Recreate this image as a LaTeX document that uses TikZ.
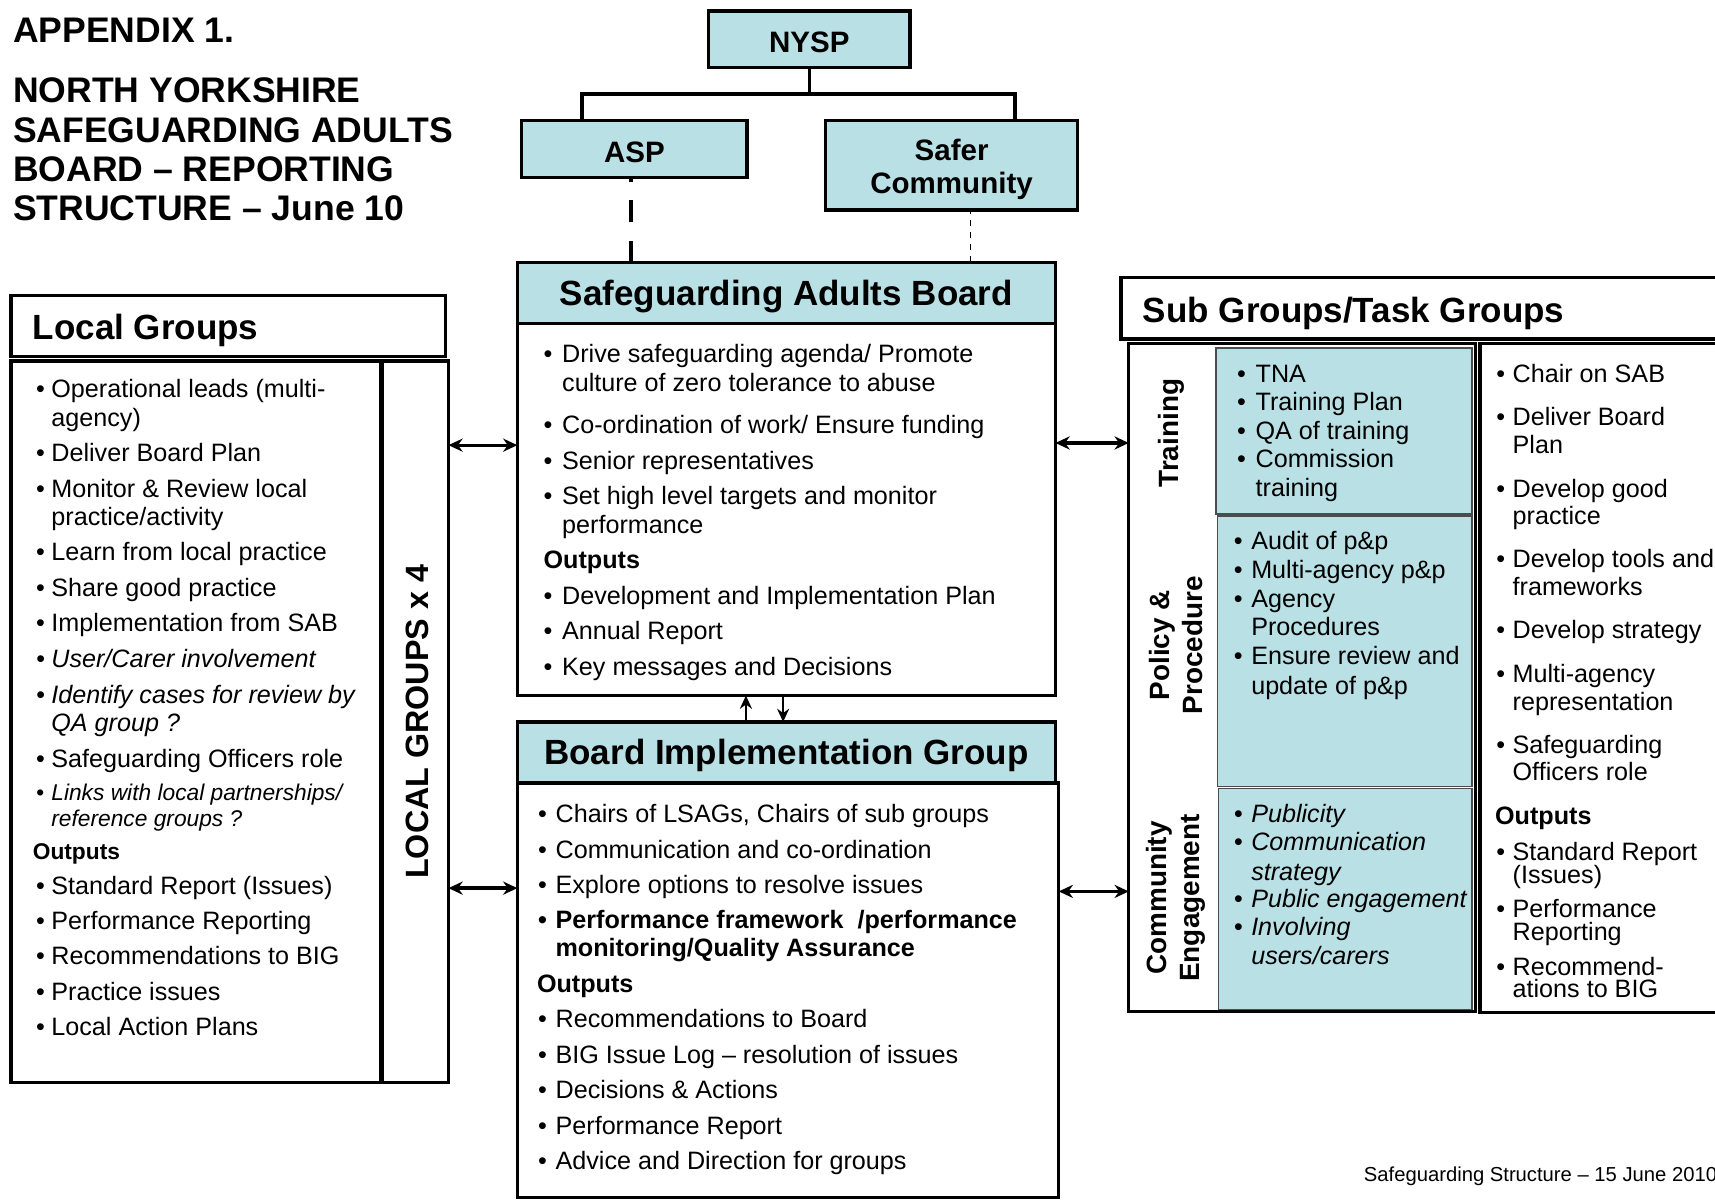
\documentclass[tikz,border=0pt]{standalone}
\usepackage{fontspec}
\setmainfont{Liberation Sans}
\usetikzlibrary{arrows.meta,calc}
\definecolor{sabblue}{RGB}{185,224,228}
\newcounter{ln}
\def\bX{0}\def\tX{0}
\newcommand\fs[1]{\fontsize{#1}{#1}\selectfont}
\tikzset{
 rb/.style={draw, line width=3pt, outer sep=0pt, inner sep=0pt},
 cellbox/.style={draw=black!70, line width=1.5pt, fill=sabblue},
 tx/.style={anchor=mid west, inner sep=0pt, outer sep=0pt, yshift=-5pt, font=\fs{23}},
 bfx/.style={font=\bfseries\fs{23}},
 itl/.style={font=\itshape\fs{23}},
 itsm/.style={font=\itshape\fs{20.8}},
 bfsm/.style={font=\bfseries\fs{20.8}},
 ttl/.style={anchor=base west, yshift=5pt, font=\bfseries\fs{32.5}},
 hd/.style={anchor=base west, yshift=5pt, font=\bfseries\fs{32}},
 bxt/.style={inner sep=0pt, yshift=-3pt, align=center},
 lk/.style={line width=3pt},
 dbl/.style={line width=3pt, {Stealth[length=13pt,width=12pt]}-{Stealth[length=13pt,width=12pt]}},
 varr/.style={line width=2pt, -{Stealth[length=12pt,width=11pt]}},
 side/.style={rotate=90, align=center, font=\bfseries\fontsize{25.5}{30}\selectfont, inner sep=0pt},
}
\newcommand\R[7][]{\node[rb,#1,minimum width={(#5)-(#3)},minimum height={(#6)-(#4)},anchor=north west] (#2) at (#3,#4) {#7};}
\newcommand\T[4][]{\stepcounter{ln}\node[tx,#1] (ln\arabic{ln}) at (#2,#3) {#4};}
\newcommand\B[3][]{\stepcounter{ln}\node[tx,#1] (ln\arabic{ln}) at (\tX,#2) {\llap{\makebox[\dimexpr\tX pt-\bX pt\relax][l]{\textbullet}}#3};}
\newcommand\C[3][]{\stepcounter{ln}\node[tx,#1] (ln\arabic{ln}) at (\tX,#2) {#3};}
\begin{document}
\begin{tikzpicture}[x=1pt,y=-1pt]
\path[use as bounding box, fill=white] (0,0) rectangle (1568,1097);
% title
\T[ttl]{12}{39}{APPENDIX 1.}
\T[ttl]{12}{94}{NORTH YORKSHIRE}
\T[ttl]{12}{130}{SAFEGUARDING ADULTS}
\T[ttl]{12}{166}{BOARD – REPORTING}
\T[ttl]{12}{202}{STRUCTURE – June 10}
% top boxes
\R[fill=sabblue]{nysp}{648}{10}{832}{62}{}
\node[bxt, font=\bfseries\fs{27}] (nyspt) at (nysp.center) {NYSP};
\R[fill=sabblue]{asp}{477}{110}{683}{162}{}
\node[bxt, font=\bfseries\fs{27}] (aspt) at (asp.center) {ASP};
\R[fill=sabblue]{safer}{755}{110}{985}{192}{}
\node[bxt, font=\bfseries\fontsize{27}{30}\selectfont, yshift=-1pt] (safert) at (safer.center) {Safer\\Community};
\coordinate (jl) at (532,86);
\coordinate (jr) at (928,86);
\draw[lk] (nysp.south) -- (nysp.south |- jl);
\draw[lk] (asp.north -| jl) -- (jl) -- (jr) -- (safer.north -| jr);
% SAB
\R[fill=sabblue]{sabh}{473}{240}{965}{296}{}
\node[bxt, font=\bfseries\fs{32}] (sabht) at (sabh.center) {Safeguarding Adults Board};
\R{sabb}{473}{296}{965}{636}{}
\coordinate (xa) at (577,0);
\coordinate (xs) at (887,0);
\draw[line width=4pt, dash pattern=on 20pt off 17pt] (sabh.north -| xa) -- (asp.south -| xa);
\draw[line width=1.2pt, dash pattern=on 6pt off 5pt] (sabh.north -| xs) -- (safer.south -| xs);
% BIG
\R[fill=sabblue]{bigh}{473}{660}{965}{716}{}
\node[bxt, font=\bfseries\fs{32}] (bight) at (bigh.center) {Board Implementation Group};
\R{bigb}{473}{716}{968}{1095}{}
\coordinate (xu) at (682,0);
\coordinate (xd) at (716,0);
\draw[varr] (bigh.north -| xu) -- (sabb.south -| xu);
\draw[varr] (sabb.south -| xd) -- (bigh.north -| xd);
% Local groups
\R{lgh}{10}{270}{407}{326}{}
\T[hd]{30}{310}{Local Groups}
\R{lgb}{10}{330}{348}{990}{}
\R{lgs}{350}{330}{410}{990}{}
\node[rotate=90, font=\bfseries\fs{29.5}, inner sep=0pt] (lgx) at (382,660) {LOCAL GROUPS x 4};
% Sub groups
\R{sgh}{1025}{254}{1600}{310}{}
\T[hd]{1045}{295}{Sub Groups/Task Groups}
\R{sgl}{1032}{314}{1349}{925}{}
\R{sgr}{1353}{314}{1600}{926}{}
\R[cellbox]{ctr}{1112}{318}{1346}{470}{}
\R[cellbox]{cpp}{1113}{472}{1346}{719}{}
\R[cellbox]{cce}{1114}{721}{1346}{923}{}
\node[side] (ltr) at (1071,396) {Training};
\node[side] (lpp) at (1075,590) {Policy \&\\Procedure};
\node[side] (lce) at (1075,821) {Community\\Engagement};
% arrows
\coordinate (ya) at (0,407);
\coordinate (yb) at (0,812);
\coordinate (yc) at (0,405);
\coordinate (yd) at (0,815);
\draw[dbl] (lgs.east |- ya) -- (sabb.west |- ya);
\draw[dbl] (lgs.east |- yb) -- (bigb.west |- yb);
\draw[dbl] (sabb.east |- yc) -- (sgl.west |- yc);
\draw[dbl] (bigb.east |- yd) -- (sgl.west |- yd);
% SAB text
\def\bX{497}\def\tX{514}
\B{324}{Drive safeguarding agenda/ Promote}
\C{350}{culture of zero tolerance to abuse}
\B{389}{Co-ordination of work/ Ensure funding}
\B{422}{Senior representatives}
\B{454}{Set high level targets and monitor}
\C{480}{performance}
\T[bfx]{497}{512}{Outputs}
\B{545}{Development and Implementation Plan}
\B{577}{Annual Report}
\B{610}{Key messages and Decisions}
% BIG text
\def\bX{492}\def\tX{508}
\B{744}{Chairs of LSAGs, Chairs of sub groups}
\B{777}{Communication and co-ordination}
\B{809}{Explore options to resolve issues}
\B[bfx]{841}{Performance framework\ \ /performance}
\C[bfx]{867}{monitoring/Quality Assurance}
\T[bfx]{491}{900}{Outputs}
\B{932}{Recommendations to Board}
\B{965}{BIG Issue Log – resolution of issues}
\B{997}{Decisions \& Actions}
\B{1030}{Performance Report}
\B{1062}{Advice and Direction for groups}
% Local text
\def\bX{33}\def\tX{47}
\B{356}{Operational leads (multi-}
\C{382}{agency)}
\B{414}{Deliver Board Plan}
\B{447}{Monitor \& Review local}
\C{473}{practice/activity}
\B{505}{Learn from local practice}
\B{538}{Share good practice}
\B{570}{Implementation from SAB}
\B[itl]{603}{User/Carer involvement}
\B[itl]{636}{Identify cases for review by}
\C[itl]{661}{QA group ?}
\B{694}{Safeguarding Officers role}
\B[itsm]{724}{Links with local partnerships/}
\C[itsm]{748}{reference groups ?}
\T[bfsm]{30}{778}{Outputs}
\B{810}{Standard Report (Issues)}
\B{842}{Performance Reporting}
\B{874}{Recommendations to BIG}
\B{907}{Practice issues}
\B{939}{Local Action Plans}
% Training
\def\bX{1131}\def\tX{1148}
\B{342}{TNA}
\B{368}{Training Plan}
\B{394}{QA of training}
\B{420}{Commission}
\C{446}{training}
% Policy
\def\bX{1128}\def\tX{1144}
\B{495}{Audit of p\&p}
\B{521}{Multi-agency p\&p}
\B{548}{Agency}
\C{573}{Procedures}
\B{600}{Ensure review and}
\C{627}{update of p\&p}
% Community
\B[itl]{744}{Publicity}
\B[itl]{770}{Communication}
\C[itl]{797}{strategy}
\B[itl]{822}{Public engagement}
\B[itl]{848}{Involving}
\C[itl]{874}{users/carers}
% Right column
\def\bX{1368}\def\tX{1383}
\B{342}{Chair on SAB}
\B{381}{Deliver Board}
\C{407}{Plan}
\B{447}{Develop good}
\C{472}{practice}
\B{511}{Develop tools and}
\C{537}{frameworks}
\B{576}{Develop strategy}
\B{616}{Multi-agency}
\C{642}{representation}
\B{681}{Safeguarding}
\C{706}{Officers role}
\T[bfx]{1367}{746}{Outputs}
\B{779}{Standard Report}
\C{800}{(Issues)}
\B{831}{Performance}
\C{852}{Reporting}
\B{884}{Recommend-}
\C{904}{ations to BIG}
% footer
\T[font=\fs{18.5}]{1247}{1073}{Safeguarding Structure – 15 June 2010}
\end{tikzpicture}
\end{document}
